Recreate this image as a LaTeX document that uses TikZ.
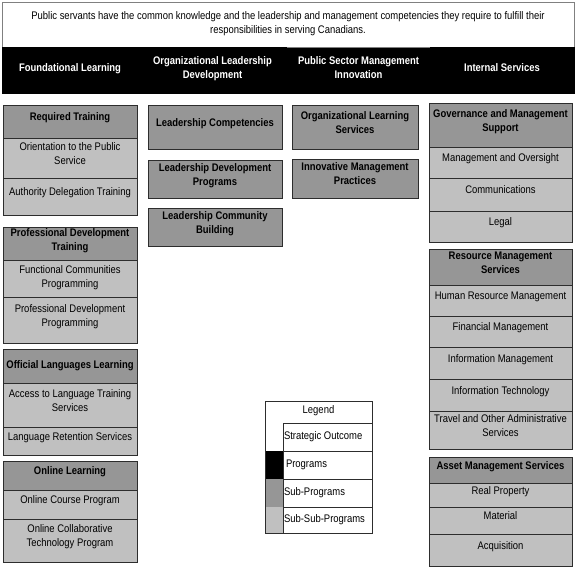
\documentclass[tikz,border=0pt]{standalone}
\usepackage{fontspec}
\setmainfont{Liberation Sans}[FakeStretch=0.86]
\usetikzlibrary{positioning}
\definecolor{subgrey}{RGB}{150,150,150}
\definecolor{subsubgrey}{RGB}{192,192,192}
\definecolor{edgegrey}{RGB}{45,45,45}
\tikzset{
  cell/.style={draw=edgegrey,line width=0.8pt,align=center,inner sep=2pt,outer sep=0pt,
               font=\fontsize{11}{14}\selectfont,text depth=9pt},
  so/.style={cell,draw=gray,fill=white,text depth=4pt},
  pg/.style={cell,draw=black,fill=black,text=white,font=\fontsize{11}{14}\selectfont\bfseries,text depth=5pt},
  sp/.style={cell,fill=subgrey,font=\fontsize{11}{14}\selectfont\bfseries},
  ssp/.style={cell,fill=subsubgrey},
  swatch/.style={inner sep=0pt,outer sep=0pt,minimum width=18,minimum height=28},
  lgcell/.style={cell,fill=white,align=flush left,text width=87,inner xsep=1pt,text depth=2pt,minimum height=28},
}

\begin{document}
\begin{tikzpicture}[x=1pt,y=-1pt]
  \useasboundingbox (0,0) rectangle (576,570);

  % strategic outcome and programs
  \node[so,minimum width=572,minimum height=45] (out) at (288,24.5)
        {Public servants have the common knowledge and the leadership and management competencies they require to fulfill their\\responsibilities in serving Canadians.};
  \node[pg,minimum width=136,minimum height=46] (fl)  at (70,70)    {Foundational Learning};
  \node[pg,minimum width=149,minimum height=46] (old) at (212.5,70) {Organizational Leadership\\Development};
  \node[pg,minimum width=143,minimum height=46] (psm) at (358.5,70) {Public Sector Management\\Innovation};
  \node[pg,minimum width=144,minimum height=46] (ins) at (502,70)   {Internal Services};
  \draw[gray,line width=0.8pt] (psm.north west) -- (psm.north east);

  % foundational learning
  \node[sp,minimum width=134,minimum height=33]  (reqt)   at (70,121.5) {Required Training};
  \node[ssp,minimum width=134,minimum height=40] (orient) at (70,158)   {Orientation to the Public\\Service};
  \node[ssp,minimum width=134,minimum height=37] (auth)   at (70,196.5) {Authority Delegation Training};
  \node[sp,minimum width=134,minimum height=33,text depth=7pt] (pdt) at (70,243.5) {Professional Development\\Training};
  \node[ssp,minimum width=134,minimum height=37,text depth=3pt] (func) at (70,278.5) {Functional Communities\\Programming};
  \node[ssp,minimum width=134,minimum height=46] (pdp)    at (70,320)   {Professional Development\\Programming};
  \node[sp,minimum width=134,minimum height=34,text depth=2pt] (oll) at (70,366) {Official Languages Learning};
  \node[ssp,minimum width=134,minimum height=44] (access) at (70,405)   {Access to Language Training\\Services};
  \node[ssp,minimum width=134,minimum height=28] (retent) at (70,441)   {Language Retention Services};
  \node[sp,minimum width=134,minimum height=29]  (onl)    at (70,475.5) {Online Learning};
  \node[ssp,minimum width=134,minimum height=29] (course) at (70,504.5) {Online Course Program};
  \node[ssp,minimum width=134,minimum height=43] (collab) at (70,540.5) {Online Collaborative\\Technology Program};

  % organizational leadership development
  \node[sp,minimum width=134,minimum height=44] (lc)  at (215,127) {Leadership Competencies};
  \node[sp,minimum width=134,minimum height=38] (ldp) at (215,179) {Leadership Development\\Programs};
  \node[sp,minimum width=134,minimum height=38] (lcb) at (215,227) {Leadership Community\\Building};

  % public sector management innovation
  \node[sp,minimum width=126,minimum height=44] (ols) at (355,127)   {Organizational Learning\\Services};
  \node[sp,minimum width=126,minimum height=39] (imp) at (355,178.5) {Innovative Management\\Practices};

  % internal services
  \node[sp,minimum width=143,minimum height=44]  (gms)    at (500.5,125)   {Governance and Management\\Support};
  \node[ssp,minimum width=143,minimum height=31] (mo)     at (500.5,162.5) {Management and Oversight};
  \node[ssp,minimum width=143,minimum height=33] (comm)   at (500.5,194.5) {Communications};
  \node[ssp,minimum width=143,minimum height=31] (legal)  at (500.5,226.5) {Legal};
  \node[sp,minimum width=143,minimum height=36]  (rms)    at (500.5,267)   {Resource Management\\Services};
  \node[ssp,minimum width=143,minimum height=31] (hrm)    at (500.5,300.5) {Human Resource Management};
  \node[ssp,minimum width=143,minimum height=31] (fin)    at (500.5,331.5) {Financial Management};
  \node[ssp,minimum width=143,minimum height=32] (im)     at (500.5,363)   {Information Management};
  \node[ssp,minimum width=143,minimum height=32] (it)     at (500.5,395)   {Information Technology};
  \node[ssp,minimum width=143,minimum height=38] (travel) at (500.5,430)   {Travel and Other Administrative\\Services};
  \node[sp,minimum width=143,minimum height=26]  (ams)    at (500.5,470)   {Asset Management Services};
  \node[ssp,minimum width=143,minimum height=24] (rp)     at (500.5,495)   {Real Property};
  \node[ssp,minimum width=143,minimum height=27] (mat)    at (500.5,520.5) {Material};
  \node[ssp,minimum width=143,minimum height=32] (acq)    at (500.5,550)   {Acquisition};

  % legend
  \node[cell,fill=white,minimum width=107,minimum height=22,text depth=5pt] (lgt) at (318.5,412) {Legend};
  \node[swatch,fill=white]      (sw1) at (274,437) {};
  \node[swatch,fill=black]      (sw2) at (274,465) {};
  \node[swatch,fill=subgrey]    (sw3) at (274,493) {};
  \node[swatch,fill=subsubgrey,minimum height=26] (sw4) at (274,520) {};
  \node[lgcell] (lg1) at (327.5,437) {Strategic Outcome};
  \node[lgcell] (lg2) at (327.5,465) {\hspace*{2pt}Programs};
  \node[lgcell] (lg3) at (327.5,493) {Sub-Programs};
  \node[lgcell,minimum height=26] (lg4) at (327.5,520) {Sub-Sub-Programs};
  \draw[draw=edgegrey,line width=0.8pt] (lgt.north west) rectangle (lg4.south east);

\end{tikzpicture}
\end{document}
